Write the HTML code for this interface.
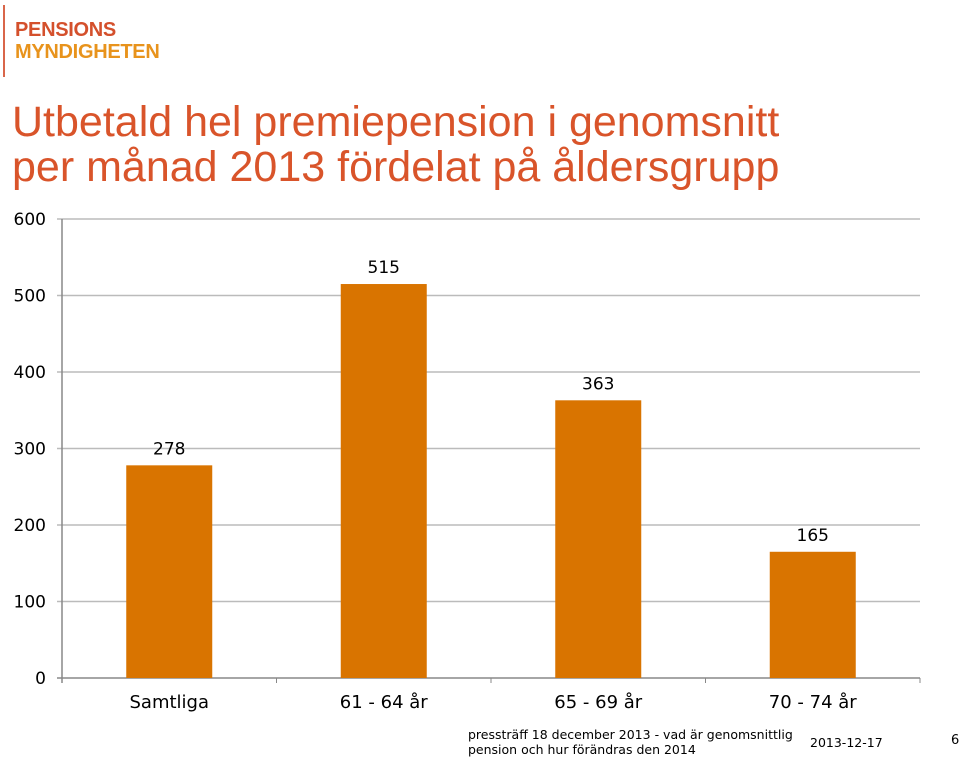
<!DOCTYPE html>
<html><head><meta charset="utf-8"><style>
body{margin:0;width:960px;height:758px;background:#fff;overflow:hidden;font-family:"DejaVu Sans","Liberation Sans",sans-serif;position:relative}
.t{position:absolute}
</style></head><body>
<div class="t" style="left:3px;top:5px;width:2px;height:72px;background:#d9664a"></div>
<div class="t" style="left:15px;top:19px;font-family:'Liberation Sans',sans-serif;font-size:20px;line-height:22px;font-weight:bold;letter-spacing:-0.3px">
<div style="color:#d4502c">PENSIONS</div><div style="color:#e8931c">MYNDIGHETEN</div></div>
<div class="t" style="left:12px;top:100px;font-family:'Liberation Sans',sans-serif;font-size:43px;line-height:45px;color:#d9542a;white-space:nowrap">Utbetald hel premiepension i genomsnitt<br>per månad 2013 fördelat på åldersgrupp</div>
<svg class="t" style="left:0;top:0" width="960" height="758">
<g id="g"></g></svg>
<div class="t" style="left:468px;top:727px;font-size:12.5px;line-height:15px;color:#000">pressträff 18 december 2013 - vad är genomsnittlig<br>pension och hur förändras den 2014</div>
<div class="t" style="left:810px;top:735px;font-size:12.5px">2013-12-17</div>
<div class="t" style="left:951px;top:733px;font-size:13px">6</div>
<script>
const categories=["Samtliga","61 - 64 år","65 - 69 år","70 - 74 år"];
const values=[278,515,363,165];
const ticks=[0,100,200,300,400,500,600];
const X0=62,X1=920,Y0=678,Y600=219;
const y=v=>Y0-(v/600)*(Y0-Y600);
const bw=(X1-X0)/categories.length;
const g=document.getElementById('g');const NS='http://www.w3.org/2000/svg';
function mk(t,a,txt){const e=document.createElementNS(NS,t);for(const k in a)e.setAttribute(k,a[k]);if(txt!==undefined)e.textContent=txt;g.appendChild(e);return e;}
ticks.forEach(t=>{
 const l=mk('line',{x1:X0-5,x2:X1,y1:y(t),y2:y(t),stroke:t===0?'#888':'#bbb','stroke-width':1.5});
 
 const tx=mk('text',{x:46,y:y(t)+6,'text-anchor':'end','font-size':17,fill:'#000'},t);
 
});
const ax=mk('line',{x1:X0,x2:X0,y1:Y600,y2:Y0+5,stroke:'#888','stroke-width':1.5});

for(let i=0;i<=categories.length;i++){const l=mk('line',{x1:X0+i*bw,x2:X0+i*bw,y1:Y0,y2:Y0+5,stroke:'#888'});
 }
categories.forEach((c,i)=>{
 const cx=X0+bw*(i+0.5);
 const r=mk('rect',{x:cx-43,y:y(values[i]),width:86,height:Y0-y(values[i]),fill:'#d97400'});
 
 const v=mk('text',{x:cx,y:y(values[i])-11,'text-anchor':'middle','font-size':17},values[i]);
 
 const lb=mk('text',{x:cx,y:Y0+30,'text-anchor':'middle','font-size':18},c);
 
});
</script>
</body></html>
